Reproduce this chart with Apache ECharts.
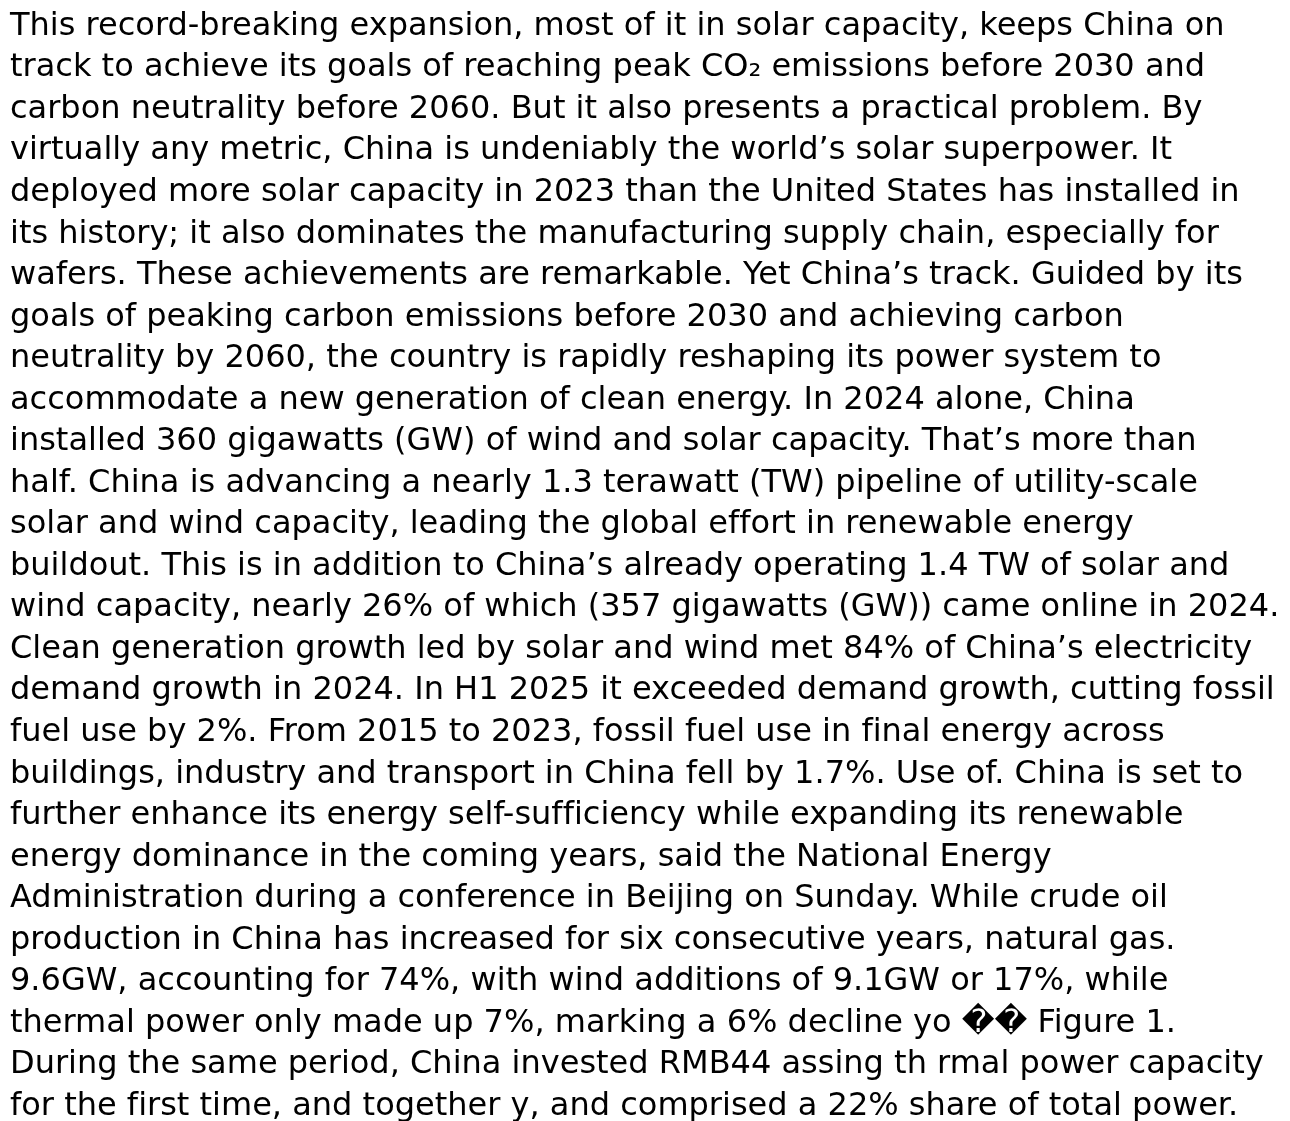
<!DOCTYPE html>
<html>
<head>
<meta charset="utf-8">
<script src="https://cdn.jsdelivr.net/npm/echarts@6/dist/echarts.min.js"></script>
<style>
html,body{margin:0;padding:0;background:#fff;}
#chart{width:1290px;height:1121px;}
</style>
</head>
<body>
<div id="chart"></div>
<script>
var lines = [
"This record-breaking expansion, most of it in solar capacity, keeps China on",
"track to achieve its goals of reaching peak CO\u2082 emissions before 2030 and",
"carbon neutrality before 2060. But it also presents a practical problem. By",
"virtually any metric, China is undeniably the world\u2019s solar superpower. It",
"deployed more solar capacity in 2023 than the United States has installed in",
"its history; it also dominates the manufacturing supply chain, especially for",
"wafers. These achievements are remarkable. Yet China\u2019s track. Guided by its",
"goals of peaking carbon emissions before 2030 and achieving carbon",
"neutrality by 2060, the country is rapidly reshaping its power system to",
"accommodate a new generation of clean energy. In 2024 alone, China",
"installed 360 gigawatts (GW) of wind and solar capacity. That\u2019s more than",
"half. China is advancing a nearly 1.3 terawatt (TW) pipeline of utility-scale",
"solar and wind capacity, leading the global effort in renewable energy",
"buildout. This is in addition to China\u2019s already operating 1.4 TW of solar and",
"wind capacity, nearly 26% of which (357 gigawatts (GW)) came online in 2024.",
"Clean generation growth led by solar and wind met 84% of China\u2019s electricity",
"demand growth in 2024. In H1 2025 it exceeded demand growth, cutting fossil",
"fuel use by 2%. From 2015 to 2023, fossil fuel use in final energy across",
"buildings, industry and transport in China fell by 1.7%. Use of. China is set to",
"further enhance its energy self-sufficiency while expanding its renewable",
"energy dominance in the coming years, said the National Energy",
"Administration during a conference in Beijing on Sunday. While crude oil",
"production in China has increased for six consecutive years, natural gas.",
"9.6GW, accounting for 74%, with wind additions of 9.1GW or 17%, while",
"thermal power only made up 7%, marking a 6% decline yo \uFFFD\uFFFD Figure 1.",
"During the same period, China invested RMB44 assing th rmal power capacity",
"for the first time, and together y, and comprised a 22% share of total power."
];

var chart = echarts.init(document.getElementById('chart'));
var LEFT = 10, FIRST_BASE = 35, PITCH = 41.54, FS = 32;
function noLig(s) { return s.replace(/f(?=[ifl])/g, 'f\u200C'); }
var elements = lines.map(function (t, i) {
  return {
    type: 'text',
    x: LEFT,
    y: FIRST_BASE + 7.5 + i * PITCH,
    style: {
      text: noLig(t),
      font: 'normal ' + FS + 'px "DejaVu Sans"',
      fill: '#000',
      textAlign: 'left',
      textVerticalAlign: 'bottom'
    }
  };
});
chart.setOption({
  backgroundColor: '#fff',
  animation: false,
  graphic: { elements: elements }
});
</script>
</body>
</html>
